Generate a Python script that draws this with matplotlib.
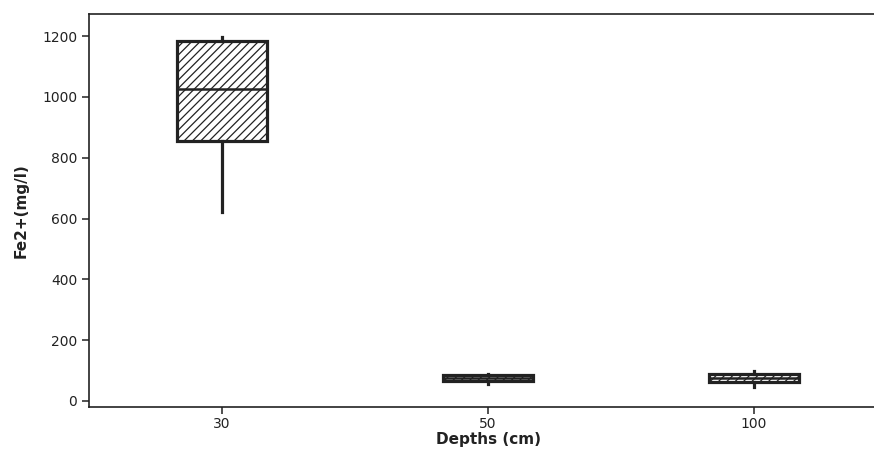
import matplotlib
matplotlib.use("Agg")
import matplotlib.pyplot as plt

categories = ["30", "50", "100"]
whislo = [622, 56, 46]
q1 = [855, 66, 62]
med = [1026, 75, 76]
q3 = [1185, 85, 89]
whishi = [1197, 88, 99]

plt.rcParams['font.family'] = ['DejaVu Sans']
plt.rcParams['hatch.linewidth'] = 0.9
plt.rcParams['hatch.color'] = '#222222'

fig = plt.figure(figsize=(8.74, 4.58), dpi=100)
ax = fig.add_axes([89/874, 51/458, 798/874, 393/458])

stats = []
for i, c in enumerate(categories):
    stats.append(dict(label=c, whislo=whislo[i], q1=q1[i], med=med[i],
                      q3=q3[i], whishi=whishi[i], fliers=[]))

col = '#222222'
bp = ax.bxp(stats, positions=[1, 2, 3], widths=0.34, patch_artist=True,
            showcaps=False,
            boxprops=dict(facecolor='white', edgecolor=col, linewidth=2.3, hatch='////'),
            medianprops=dict(color=col, linewidth=1.8),
            whiskerprops=dict(color=col, linewidth=2.3))

ax.set_xlim(0.5, 3.5)
ax.set_ylim(-20, 1273)
ax.set_yticks([0, 200, 400, 600, 800, 1000, 1200])
ax.set_xticks([1, 2, 3])
ax.set_xticklabels(categories)
ax.spines['right'].set_visible(False)
for s in ['left', 'top', 'bottom']:
    ax.spines[s].set_color(col)
    ax.spines[s].set_linewidth(1.2)
ax.tick_params(axis='both', colors=col, labelcolor='#222222', labelsize=10,
               length=5, width=1.1, direction='out')
ax.tick_params(axis='x', pad=2)
ax.set_xlabel('Depths (cm)', fontsize=11, fontweight='bold', color='#222222', labelpad=1)
ax.set_ylabel('Fe2+(mg/l)', fontsize=11, fontweight='bold', color='#222222', labelpad=10)

fig.savefig('out.png', dpi=100)
